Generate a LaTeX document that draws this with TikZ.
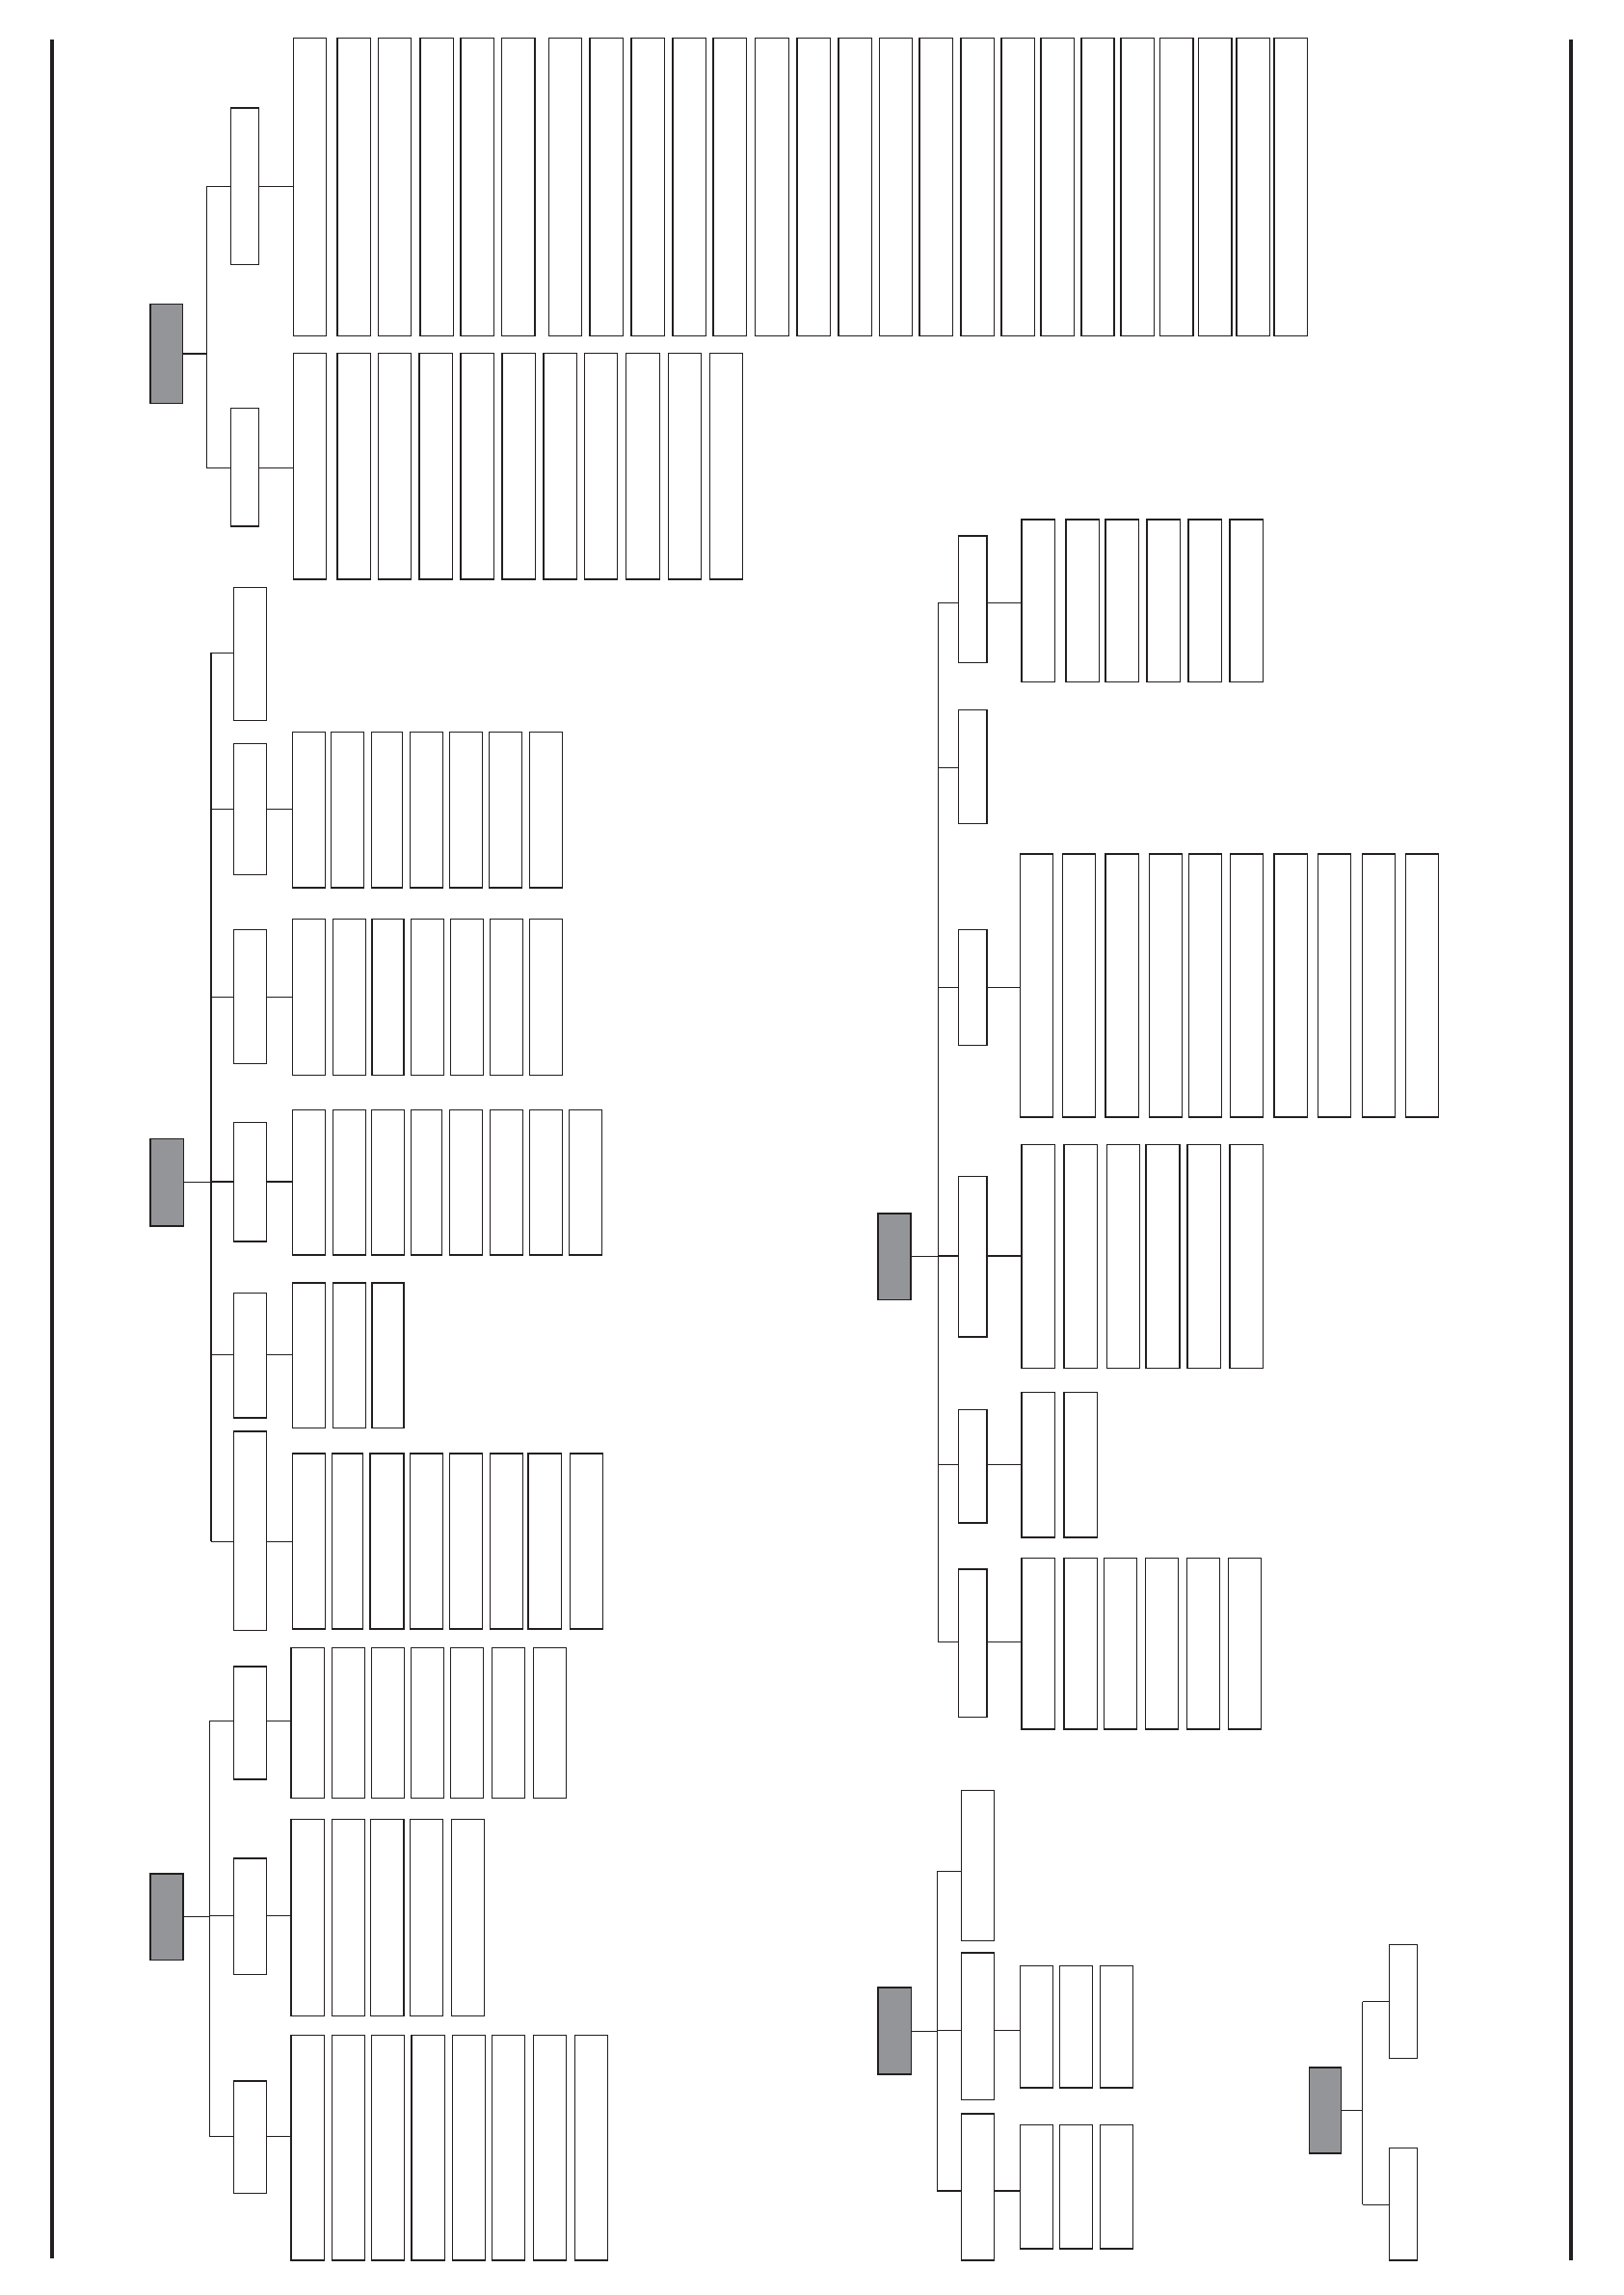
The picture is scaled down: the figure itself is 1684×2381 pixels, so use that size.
\documentclass[tikz,border=0pt]{standalone}
\definecolor{linec}{RGB}{35,31,32}
\definecolor{rootgray}{RGB}{147,149,152}
\tikzset{
  bx/.style={draw=linec, line width=0.45pt, fill=white, inner sep=0pt, outer sep=0pt, anchor=north west, rectangle},
  rootbx/.style={bx, fill=rootgray, line width=0.5pt},
  conn/.style={draw=linec, line width=0.4pt},
  border/.style={draw=linec, line width=1.1pt}
}
\newcommand\bx[6][bx]{\node[#1, minimum width={(#5-#3)*0.3pt}, minimum height={(#6-#4)*0.3pt}] (#2) at (#3,#4) {};}
\newcommand\leafrow[4]{\foreach \xa/\xb [count=\i] in {#4} {\bx{#1\i}{\xa}{#2}{\xb}{#3}}}
\newcommand\tochild[2]{\draw[conn] (#1) -- (#1 -| #2.west);}
\newcommand\toleaf[3]{\draw[conn] (#1 -| #2.east) -- (#1 -| #3.west);}
\begin{document}
\begin{tikzpicture}[x=0.3pt,y=-0.3pt]
\useasboundingbox (0,0) rectangle (1684,2381);
% page rules
\draw[border] (53.7,40.8) -- (53.7,2343);
\draw[border] (1629.9,40.8) -- (1629.9,2345);

% ---------------- group 1
\bx[rootbx]{g1r}{156.3}{315.5}{189.6}{418.4}
\bx{g1a}{239.5}{112.2}{268.5}{274.3}
\bx{g1b}{239.5}{423.3}{268.5}{546.1}
\coordinate (g1ja) at (214.3,193.5);
\coordinate (g1jb) at (214.3,485.3);
\leafrow{g1al}{39.6}{348.5}{304.5/338.3, 350.2/384.5, 392.6/426.4, 436.1/470.5, 478/512.4, 520.4/554.8, 569.3/603.7, 612.2/646.6, 655.2/689.6, 698.2/732.5, 740.1/774.4, 783.6/818.5, 827.1/861.3, 870/904.3, 912.4/946.7, 954.2/988.6, 997.2/1031.6, 1039.1/1073.5, 1079.9/1114.3, 1121.8/1156.2, 1163.2/1197.5, 1203.4/1237.8, 1243.7/1278.1, 1282.9/1317.3, 1322.1/1356.5}
\leafrow{g1bl}{366.5}{601.2}{304.5/338.3, 350.2/384.5, 392.6/426.4, 435/469.4, 478/512.4, 521/555.3, 563.9/598.3, 606.3/640.7, 649.3/684.7, 693.3/727.7, 736.3/770.7}
\draw[conn] (g1r.east) -- (g1r.east -| g1ja);
\draw[conn] (g1ja) -- (g1jb);
\tochild{g1ja}{g1a} \toleaf{g1ja}{g1a}{g1al1}
\tochild{g1jb}{g1b} \toleaf{g1jb}{g1b}{g1bl1}

% ---------------- group 2
\bx[rootbx]{g2r}{156.3}{1181.5}{190.6}{1271.7}
\bx{g2c1}{242.4}{609.6}{276.3}{747.7}
\bx{g2c2}{242.4}{771.5}{276.3}{907.7}
\bx{g2c3}{242.4}{964.4}{276.3}{1103.5}
\bx{g2c4}{242.4}{1164.6}{276.3}{1288.2}
\bx{g2c5}{242.4}{1341.4}{276.3}{1471}
\bx{g2c6}{242.4}{1484.8}{276.3}{1691.6}
\coordinate (g2j1) at (219,677.4);
\coordinate (g2j2) at (219,839.3);
\coordinate (g2j3) at (219,1034.7);
\coordinate (g2j4) at (219,1226.1);
\coordinate (g2j5) at (219,1405.5);
\coordinate (g2j6) at (219,1599.2);
\leafrow{g2c2l}{759.4}{920.8}{303.6/337.5, 343.3/377.7, 385.3/417.4, 425.4/459.4, 466.5/500.4, 507.6/541.5, 549.6/583.5}
\leafrow{g2c3l}{953.7}{1115.6}{303.6/337.5, 345.5/379.5, 386.2/418.8, 426.3/460.3, 467.4/501.3, 508.5/542.4, 549.6/583.5}
\leafrow{g2c4l}{1151.5}{1301.8}{303.6/337.5, 345.5/379.5, 385.3/419.6, 426.3/458.5, 466.5/500.4, 508.5/542.4, 549.6/583.5, 590.6/624.6}
\leafrow{g2c5l}{1331}{1481.3}{303.6/337.5, 345.5/379.5, 386.2/418.8}
\leafrow{g2c6l}{1508.2}{1690.2}{303.6/337.5, 344.6/376.3, 383.9/418.8, 425.4/459.4, 466.5/500.4, 508.5/542.4, 548.2/582.6, 591.5/625.4}
\draw[conn] (g2r.east) -- (g2r.east -| g2j4);
\draw[conn] (g2j1) -- (g2j6);
\tochild{g2j1}{g2c1}
\tochild{g2j2}{g2c2} \toleaf{g2j2}{g2c2}{g2c2l1}
\tochild{g2j3}{g2c3} \toleaf{g2j3}{g2c3}{g2c3l1}
\tochild{g2j4}{g2c4} \toleaf{g2j4}{g2c4}{g2c4l1}
\tochild{g2j5}{g2c5} \toleaf{g2j5}{g2c5}{g2c5l1}
\tochild{g2j6}{g2c6} \toleaf{g2j6}{g2c6}{g2c6l1}

% ---------------- group 3
\bx[rootbx]{g3r}{156.3}{1943.9}{189.7}{2033.5}
\bx{g3c1}{242.4}{1728.8}{276.3}{1846}
\bx{g3c2}{242.4}{1928}{276.3}{2048.7}
\bx{g3c3}{242.4}{2159}{276.3}{2275.5}
\coordinate (g3j1) at (217.4,1785.3);
\coordinate (g3j2) at (217.4,1987.3);
\coordinate (g3j3) at (217.4,2216.2);
\leafrow{g3c1l}{1709.5}{1865.3}{302.2/336.6, 344.6/378.6, 385.3/419.6, 426.3/460.3, 467.4/501.3, 510.3/544.6, 553.6/587.5}
\leafrow{g3c2l}{1887.4}{2091.4}{302.2/336.6, 344.6/378.6, 384.4/418.8, 425.4/459.4, 468.3/502.7}
\leafrow{g3c3l}{2111.5}{2345.2}{302.2/336.6, 344.6/378.6, 385.3/419.6, 427.2/461.6, 469.6/503.6, 510.3/544.6, 553.6/587.5, 596.4/630.4}
\draw[conn] (g3r.east) -- (g3r.east -| g3j2);
\draw[conn] (g3j1) -- (g3j3);
\tochild{g3j1}{g3c1} \toleaf{g3j1}{g3c1}{g3c1l1}
\tochild{g3j2}{g3c2} \toleaf{g3j2}{g3c2}{g3c2l1}
\tochild{g3j3}{g3c3} \toleaf{g3j3}{g3c3}{g3c3l1}

% ---------------- group 4
\bx[rootbx]{g4r}{911.3}{1258.8}{944.7}{1348.4}
\bx{g4c1}{994.3}{556.2}{1023.8}{687.6}
\bx{g4c2}{994.3}{736.4}{1023.8}{854.7}
\bx{g4c3}{994.3}{964.3}{1023.8}{1084.3}
\bx{g4c4}{994.3}{1220.4}{1023.8}{1386.8}
\bx{g4c5}{994.3}{1462.6}{1023.8}{1580.2}
\bx{g4c6}{994.3}{1627.8}{1023.8}{1781.7}
\coordinate (g4j1) at (973.3,625.6);
\coordinate (g4j2) at (973.3,796.7);
\coordinate (g4j3) at (973.3,1024.6);
\coordinate (g4j4) at (973.3,1303);
\coordinate (g4j5) at (973.3,1519.5);
\coordinate (g4j6) at (973.3,1703.5);
\leafrow{g4c1l}{539}{707.7}{1059.9/1094.7, 1105.9/1140.7, 1147/1181.3, 1189.8/1224.6, 1233.1/1267.5, 1276/1310.4}
\leafrow{g4c3l}{886.2}{1159}{1058.6/1092.5, 1102.3/1136.7, 1147/1181.3, 1192.5/1226.4, 1233.6/1267.5, 1276.4/1310.4, 1322/1356.3, 1367.5/1401.4, 1413.5/1447.4, 1458.6/1492.5}
\leafrow{g4c4l}{1187.6}{1419.4}{1059.9/1094.7, 1104.1/1138.5, 1148.3/1182.7, 1188.9/1223.8, 1232.2/1266.6, 1276/1310.4}
\leafrow{g4c5l}{1444.4}{1595.2}{1059.9/1094.7, 1104.1/1138.5}
\leafrow{g4c6l}{1616.5}{1794.2}{1059.9/1094.7, 1104.1/1138.5, 1145.6/1179.6, 1188.5/1222.4, 1231.3/1265.7, 1274.6/1308.6}
\draw[conn] (g4r.east) -- (g4r.east -| g4j4);
\draw[conn] (g4j1) -- (g4j6);
\tochild{g4j1}{g4c1} \toleaf{g4j1}{g4c1}{g4c1l1}
\tochild{g4j2}{g4c2}
\tochild{g4j3}{g4c3} \toleaf{g4j3}{g4c3}{g4c3l1}
\tochild{g4j4}{g4c4} \toleaf{g4j4}{g4c4}{g4c4l1}
\tochild{g4j5}{g4c5} \toleaf{g4j5}{g4c5}{g4c5l1}
\tochild{g4j6}{g4c6} \toleaf{g4j6}{g4c6}{g4c6l1}

% ---------------- group 5
\bx[rootbx]{g5r}{911.3}{2062.1}{945.6}{2152.2}
\bx{g5c1}{997.4}{1857.4}{1031.3}{2013.3}
\bx{g5c2}{997.4}{2025.8}{1031.3}{2178.5}
\bx{g5c3}{997.4}{2192.9}{1031.3}{2345}
\coordinate (g5j1) at (972.4,1941.3);
\coordinate (g5j2) at (972.4,2106.5);
\coordinate (g5j3) at (972.4,2273);
\leafrow{g5c2l}{2039.5}{2166}{1058.6/1092.5, 1099.6/1133.6, 1141.6/1175.5}
\leafrow{g5c3l}{2204.7}{2333}{1058.6/1092.5, 1099.6/1133.6, 1141.6/1175.5}
\draw[conn] (g5r.east) -- (g5r.east -| g5j2);
\draw[conn] (g5j1) -- (g5j3);
\tochild{g5j1}{g5c1}
\tochild{g5j2}{g5c2} \toleaf{g5j2}{g5c2}{g5c2l1}
\tochild{g5j3}{g5c3} \toleaf{g5j3}{g5c3}{g5c3l1}

% ---------------- group 6
\bx[rootbx]{g6r}{1358.6}{2144.7}{1391.6}{2234.2}
\bx{g6c1}{1441.6}{2017.6}{1470.6}{2135.3}
\bx{g6c2}{1441.6}{2228.5}{1470.6}{2345}
\coordinate (g6j1) at (1413.5,2076.5);
\coordinate (g6j2) at (1413.5,2287.4);
\draw[conn] (g6r.east) -- (g6r.east -| g6j1);
\draw[conn] (g6j1) -- (g6j2);
\tochild{g6j1}{g6c1}
\tochild{g6j2}{g6c2}
\end{tikzpicture}
\end{document}
